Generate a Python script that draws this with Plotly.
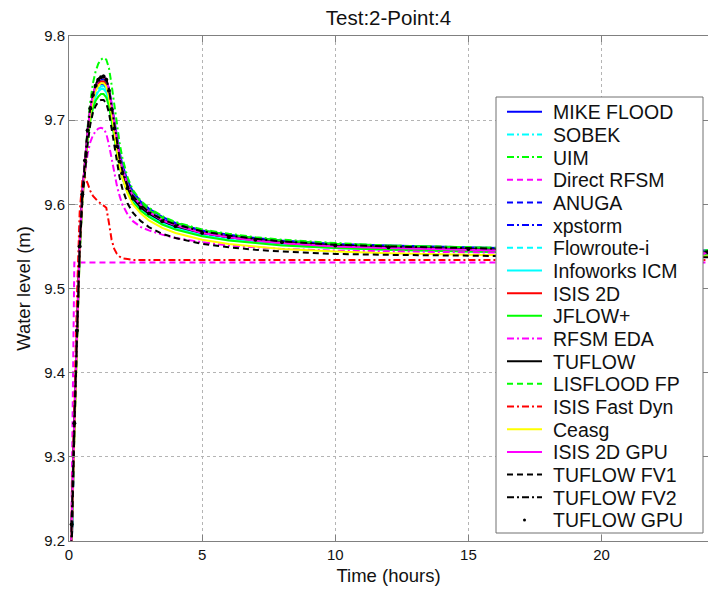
import plotly.graph_objects as go

# ---------------- data ----------------
time_h = [0, 0.1, 0.2, 0.3, 0.4, 0.5, 0.6, 0.7, 0.8, 0.9, 1.0, 1.1, 1.2, 1.3, 1.4, 1.5,
          1.6, 1.7, 1.8, 1.9, 2.0, 2.2, 2.4, 2.7, 3.0, 3.5, 4.0, 5.0, 6.0, 7.0, 8.0,
          10.0, 12.0, 15.0, 18.0, 21.0, 24.0]

mike_flood = [9.05, 9.21, 9.33, 9.44, 9.54, 9.605, 9.647, 9.683, 9.71, 9.727, 9.738, 9.745, 9.748, 9.749, 9.747, 9.738,
              9.72, 9.699, 9.679, 9.662, 9.648, 9.628, 9.615, 9.603, 9.595, 9.585, 9.578, 9.569, 9.564, 9.560, 9.557,
              9.553, 9.551, 9.549, 9.547, 9.546, 9.545]
sobek = [9.05, 9.22, 9.34, 9.45, 9.55, 9.61, 9.648, 9.682, 9.706, 9.722, 9.732, 9.738, 9.741, 9.741, 9.737, 9.725,
         9.705, 9.684, 9.664, 9.647, 9.634, 9.616, 9.604, 9.594, 9.587, 9.578, 9.572, 9.564, 9.559, 9.556, 9.553,
         9.549, 9.547, 9.545, 9.543, 9.542, 9.541]
uim = [9.05, 9.21, 9.33, 9.44, 9.54, 9.607, 9.652, 9.692, 9.722, 9.744, 9.758, 9.767, 9.772, 9.774, 9.772, 9.762,
       9.742, 9.718, 9.694, 9.673, 9.656, 9.632, 9.617, 9.604, 9.596, 9.586, 9.579, 9.570, 9.565, 9.561, 9.558,
       9.554, 9.551, 9.549, 9.547, 9.546, 9.545]
direct_rfsm = [9.05, 9.25, 9.531, 9.531, 9.531, 9.531, 9.531, 9.531, 9.531, 9.531, 9.531, 9.531, 9.531, 9.531, 9.531, 9.531,
               9.531, 9.531, 9.531, 9.531, 9.531, 9.531, 9.531, 9.531, 9.531, 9.531, 9.531, 9.531, 9.531, 9.531, 9.531,
               9.531, 9.531, 9.531, 9.531, 9.531, 9.531]
anuga = [9.05, 9.21, 9.33, 9.44, 9.545, 9.608, 9.648, 9.684, 9.71, 9.726, 9.737, 9.743, 9.746, 9.746, 9.743, 9.733,
         9.714, 9.693, 9.673, 9.656, 9.643, 9.624, 9.611, 9.600, 9.592, 9.582, 9.576, 9.567, 9.562, 9.558, 9.555,
         9.551, 9.548, 9.546, 9.544, 9.543, 9.542]
xpstorm = [9.05, 9.22, 9.34, 9.45, 9.55, 9.612, 9.65, 9.685, 9.709, 9.725, 9.735, 9.741, 9.743, 9.743, 9.739, 9.728,
           9.709, 9.688, 9.668, 9.651, 9.638, 9.62, 9.608, 9.597, 9.589, 9.58, 9.574, 9.566, 9.561, 9.557, 9.554,
           9.55, 9.548, 9.545, 9.543, 9.542, 9.541]
flowroute = [9.05, 9.21, 9.33, 9.44, 9.545, 9.606, 9.646, 9.68, 9.705, 9.721, 9.731, 9.737, 9.74, 9.74, 9.736, 9.725,
             9.706, 9.685, 9.665, 9.648, 9.635, 9.617, 9.605, 9.595, 9.588, 9.579, 9.573, 9.565, 9.56, 9.556, 9.553,
             9.549, 9.547, 9.545, 9.543, 9.542, 9.541]
infoworks = [9.05, 9.22, 9.34, 9.45, 9.55, 9.61, 9.647, 9.68, 9.703, 9.718, 9.728, 9.734, 9.737, 9.737, 9.733, 9.722,
             9.703, 9.682, 9.663, 9.646, 9.633, 9.615, 9.603, 9.593, 9.586, 9.577, 9.571, 9.563, 9.558, 9.555, 9.552,
             9.548, 9.546, 9.544, 9.542, 9.541, 9.540]
isis_2d = [9.05, 9.23, 9.35, 9.46, 9.56, 9.615, 9.652, 9.686, 9.71, 9.726, 9.737, 9.743, 9.746, 9.746, 9.742, 9.731,
           9.712, 9.69, 9.67, 9.653, 9.64, 9.622, 9.609, 9.598, 9.59, 9.581, 9.575, 9.566, 9.561, 9.557, 9.554,
           9.55, 9.548, 9.546, 9.544, 9.543, 9.542]
jflow = [9.05, 9.21, 9.33, 9.44, 9.545, 9.605, 9.643, 9.676, 9.699, 9.714, 9.723, 9.728, 9.731, 9.731, 9.727, 9.717,
         9.699, 9.679, 9.661, 9.645, 9.632, 9.614, 9.602, 9.592, 9.585, 9.576, 9.57, 9.562, 9.557, 9.554, 9.551,
         9.548, 9.546, 9.544, 9.542, 9.541, 9.540]
rfsm_eda = [9.05, 9.21, 9.33, 9.45, 9.55, 9.605, 9.638, 9.66, 9.674, 9.682, 9.687, 9.69, 9.691, 9.69, 9.684, 9.671,
            9.654, 9.637, 9.622, 9.61, 9.6, 9.588, 9.58, 9.573, 9.569, 9.564, 9.56, 9.555, 9.551, 9.549, 9.547,
            9.545, 9.544, 9.543, 9.542, 9.541, 9.541]
tuflow = [9.05, 9.22, 9.34, 9.45, 9.55, 9.612, 9.652, 9.688, 9.714, 9.73, 9.741, 9.748, 9.751, 9.752, 9.748, 9.735,
          9.713, 9.69, 9.669, 9.651, 9.637, 9.619, 9.607, 9.596, 9.589, 9.580, 9.574, 9.566, 9.561, 9.558, 9.555,
          9.551, 9.549, 9.547, 9.545, 9.544, 9.543]
lisflood = [9.05, 9.22, 9.34, 9.45, 9.55, 9.61, 9.65, 9.687, 9.713, 9.73, 9.741, 9.747, 9.75, 9.75, 9.747, 9.736,
            9.717, 9.695, 9.674, 9.657, 9.643, 9.624, 9.612, 9.601, 9.593, 9.584, 9.578, 9.569, 9.564, 9.56, 9.557,
            9.553, 9.551, 9.549, 9.547, 9.546, 9.545]
isis_fast = [9.05, 9.22, 9.36, 9.49, 9.59, 9.628, 9.632, 9.625, 9.616, 9.61, 9.606, 9.603, 9.601, 9.599, 9.596, 9.578,
             9.558, 9.547, 9.541, 9.538, 9.536, 9.535, 9.534, 9.534, 9.534, 9.534, 9.534, 9.534, 9.534, 9.534, 9.534,
             9.534, 9.534, 9.534, 9.534, 9.534, 9.534]
ceasg = [9.05, 9.21, 9.32, 9.43, 9.54, 9.603, 9.645, 9.682, 9.708, 9.724, 9.735, 9.741, 9.744, 9.744, 9.74, 9.728,
         9.708, 9.685, 9.664, 9.646, 9.632, 9.613, 9.6, 9.589, 9.581, 9.572, 9.566, 9.558, 9.553, 9.55, 9.547,
         9.544, 9.542, 9.54, 9.539, 9.538, 9.538]
isis_gpu = [9.05, 9.22, 9.34, 9.45, 9.55, 9.612, 9.652, 9.688, 9.714, 9.73, 9.741, 9.747, 9.75, 9.751, 9.748, 9.737,
            9.718, 9.696, 9.675, 9.657, 9.643, 9.623, 9.61, 9.599, 9.591, 9.581, 9.575, 9.566, 9.561, 9.557, 9.554,
            9.55, 9.548, 9.546, 9.544, 9.543, 9.542]
tuflow_fv1 = [9.05, 9.21, 9.33, 9.44, 9.545, 9.603, 9.64, 9.672, 9.695, 9.709, 9.717, 9.722, 9.724, 9.724, 9.72, 9.709,
              9.69, 9.669, 9.649, 9.632, 9.619, 9.601, 9.59, 9.58, 9.573, 9.565, 9.56, 9.553, 9.549, 9.546, 9.544,
              9.541, 9.54, 9.539, 9.538, 9.537, 9.537]
tuflow_fv2 = [9.05, 9.22, 9.34, 9.45, 9.55, 9.613, 9.653, 9.689, 9.715, 9.731, 9.742, 9.749, 9.752, 9.753, 9.749, 9.737,
              9.716, 9.694, 9.673, 9.655, 9.641, 9.622, 9.61, 9.599, 9.591, 9.582, 9.576, 9.568, 9.563, 9.559, 9.556,
              9.552, 9.55, 9.548, 9.546, 9.545, 9.544]
tuflow_gpu = [9.05, 9.22, 9.34, 9.45, 9.55, 9.612, 9.652, 9.688, 9.714, 9.73, 9.741, 9.748, 9.751, 9.752, 9.748, 9.735,
              9.713, 9.69, 9.669, 9.651, 9.637, 9.619, 9.607, 9.596, 9.589, 9.580, 9.574, 9.566, 9.561, 9.558, 9.555,
              9.551, 9.549, 9.547, 9.545, 9.544, 9.543]

series_names = ["MIKE FLOOD", "SOBEK", "UIM", "Direct RFSM", "ANUGA", "xpstorm", "Flowroute-i",
                "Infoworks ICM", "ISIS 2D", "JFLOW+", "RFSM EDA", "TUFLOW", "LISFLOOD FP",
                "ISIS Fast Dyn", "Ceasg", "ISIS 2D GPU", "TUFLOW FV1", "TUFLOW FV2", "TUFLOW GPU"]
series_values = [mike_flood, sobek, uim, direct_rfsm, anuga, xpstorm, flowroute, infoworks, isis_2d,
                 jflow, rfsm_eda, tuflow, lisflood, isis_fast, ceasg, isis_gpu, tuflow_fv1, tuflow_fv2,
                 tuflow_gpu]

x_ticks = [0, 5, 10, 15, 20]
y_ticks = [9.2, 9.3, 9.4, 9.5, 9.6, 9.7, 9.8]

# ---------------- styles ----------------
colors = ["#0000ff", "#00ffff", "#00ff00", "#ff00ff", "#0000ff", "#0000ff", "#00ffff",
          "#00ffff", "#ff0000", "#00ff00", "#ff00ff", "#000000", "#00ff00",
          "#ff0000", "#ffff00", "#ff00ff", "#000000", "#000000", "#000000"]
DASH = "6px,4px"
DASHDOT = "7px,3px,2px,3px"
dashes = ["solid", DASHDOT, DASHDOT, DASH, DASH, DASHDOT, DASH,
          "solid", "solid", "solid", DASHDOT, "solid", DASH,
          DASHDOT, "solid", "solid", DASH, DASHDOT, None]

FONT = "Liberation Sans, Arial, Helvetica, sans-serif"
W, H = 708, 589
ML, MR, MT, MB = 69, 0, 36, 48
PW, PH = W - ML - MR, H - MT - MB


def px_x(px):
    return (px - ML) / PW


def px_y(py):
    return (H - MB - py) / PH


fig = go.Figure()
for name, vals, col, dsh in zip(series_names, series_values, colors, dashes):
    if dsh is None:
        fig.add_trace(go.Scatter(x=time_h, y=vals, mode="markers", name=name, showlegend=False,
                                 marker=dict(color=col, size=4)))
    else:
        fig.add_trace(go.Scatter(x=time_h, y=vals, mode="lines", name=name, showlegend=False,
                                 line=dict(color=col, width=2, dash=dsh)))

# ---------------- legend (drawn as a box in paper space) ----------------
shapes = [dict(type="rect", xref="paper", yref="paper",
               x0=px_x(496), x1=px_x(703), y0=px_y(533), y1=px_y(97),
               fillcolor="white", line=dict(color="#707070", width=1), layer="above")]
annotations = []
ROW0, PITCH = 111.7, 22.68
for i, (name, col, dsh) in enumerate(zip(series_names, colors, dashes)):
    cy = ROW0 + i * PITCH
    if dsh is None:
        shapes.append(dict(type="circle", xref="paper", yref="paper",
                           x0=px_x(523), x1=px_x(526), y0=px_y(cy + 1.5), y1=px_y(cy - 1.5),
                           fillcolor=col, line=dict(color=col, width=0), layer="above"))
    else:
        shapes.append(dict(type="line", xref="paper", yref="paper",
                           x0=px_x(507), x1=px_x(542), y0=px_y(cy), y1=px_y(cy),
                           line=dict(color=col, width=2, dash=dsh), layer="above"))
    annotations.append(dict(text=name, xref="paper", yref="paper", x=px_x(551), y=px_y(cy + 0.5),
                            xanchor="left", yanchor="middle", showarrow=False,
                            font=dict(size=19.5, family=FONT, color="#111111")))

axis_common = dict(showline=True, linecolor="#808080", linewidth=1, mirror="ticks",
                   ticks="inside", ticklen=6, tickcolor="#808080",
                   showgrid=True, gridcolor="#b4b4b4", griddash="dot", gridwidth=1,
                   zeroline=False, tickfont=dict(size=15, color="#111111", family=FONT))

fig.update_layout(
    width=W, height=H,
    margin=dict(l=ML, r=MR, t=MT, b=MB),
    paper_bgcolor="white", plot_bgcolor="white",
    font=dict(family=FONT, color="#111111"),
    title=dict(text="Test:2-Point:4", x=0.5, xref="paper", xanchor="center",
               y=1 - 18 / H, yref="container", yanchor="middle",
               font=dict(size=20.5, color="#111111", family=FONT)),
    xaxis=dict(range=[0, 24], tickvals=x_ticks, ticktext=[str(v) for v in x_ticks],
               title=dict(text="Time (hours)", font=dict(size=18.5), standoff=7),
               **axis_common),
    yaxis=dict(range=[9.2, 9.8], tickvals=y_ticks, ticktext=[f"{v:.1f}" for v in y_ticks],
               title=dict(text="Water level (m)", font=dict(size=18.5), standoff=8),
               **axis_common),
    shapes=shapes,
    annotations=annotations,
    showlegend=False,
)

fig.write_html("out.html", config={"displayModeBar": False},
               post_script="document.body.style.margin='0px';")
